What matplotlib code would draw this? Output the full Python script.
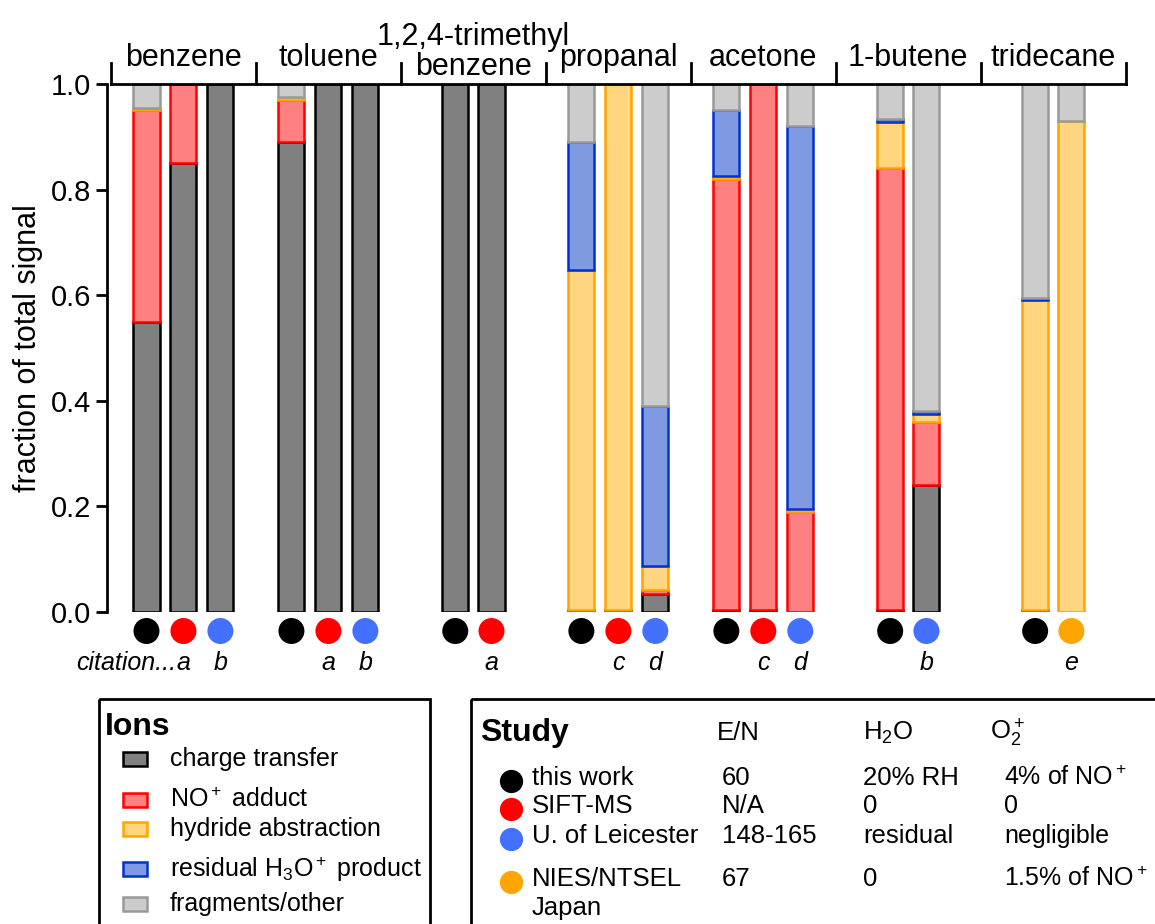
import numpy as np
import matplotlib
matplotlib.use('Agg')
import matplotlib.pyplot as plt
from matplotlib.patches import Rectangle

plt.rcParams['font.family'] = ['Liberation Sans', 'DejaVu Sans']
plt.rcParams['mathtext.fontset'] = 'custom'
plt.rcParams['mathtext.rm'] = 'Liberation Sans'
plt.rcParams['mathtext.it'] = 'Liberation Sans:italic'
plt.rcParams['mathtext.bf'] = 'Liberation Sans:bold'

compounds = ['benzene', 'toluene', '1,2,4-trimethyl\nbenzene', 'propanal',
             'acetone', '1-butene', 'tridecane']

# one entry per bar
bar_compound = [0, 0, 0, 1, 1, 1, 2, 2, 3, 3, 3, 4, 4, 4, 5, 5, 6, 6]
bar_study = [0, 1, 2, 0, 1, 2, 0, 1, 0, 1, 2, 0, 1, 2, 0, 2, 0, 3]
bar_citation = ['', 'a', 'b', '', 'a', 'b', '', 'a', '', 'c', 'd', '', 'c', 'd', '', 'b', '', 'e']

charge_transfer = [0.55, 0.85, 1.0, 0.89, 1.0, 1.0, 1.0, 1.0, 0.003, 0.003, 0.035,
                   0.003, 0.003, 0.0, 0.003, 0.24, 0.003, 0.0]
no_adduct = [0.40, 0.15, 0.0, 0.08, 0.0, 0.0, 0.0, 0.0, 0.0, 0.0, 0.007,
             0.817, 0.997, 0.19, 0.837, 0.12, 0.0, 0.0]
hydride = [0.005, 0.0, 0.0, 0.005, 0.0, 0.0, 0.0, 0.0, 0.645, 0.997, 0.046,
           0.005, 0.0, 0.005, 0.088, 0.015, 0.587, 0.93]
h3o_product = [0.0, 0.0, 0.0, 0.0, 0.0, 0.0, 0.0, 0.0, 0.242, 0.0, 0.302,
               0.125, 0.0, 0.725, 0.005, 0.005, 0.005, 0.0]
fragments = [0.045, 0.0, 0.0, 0.025, 0.0, 0.0, 0.0, 0.0, 0.11, 0.0, 0.61,
             0.05, 0.0, 0.08, 0.067, 0.62, 0.405, 0.07]

ion_labels = ['charge transfer', r'NO$^+$ adduct', 'hydride abstraction',
              r'residual H$_3$O$^+$ product', 'fragments/other']
ion_fill = ['#808080', '#FF8080', '#FFD580', '#7F9AE0', '#CCCCCC']
ion_edge = ['#000000', '#FF0000', '#FFA500', '#0033CC', '#999999']

study_names = ['this work', 'SIFT-MS', 'U. of Leicester', 'NIES/NTSEL\nJapan']
study_colors = ['#000000', '#FF0000', '#4470FF', '#FFA500']
study_en = ['60', 'N/A', '148-165', '67']
study_h2o = ['20% RH', '0', 'residual', '0']
study_o2 = [r'4% of NO$^+$', '0', 'negligible', r'1.5% of NO$^+$']

W, H = 1155, 924
fig = plt.figure(figsize=(W / 100, H / 100), dpi=100)
ax = fig.add_axes([106.6 / W, 1 - 612 / H, 1026.4 / W, 528 / H])

# bar positions inside each compound group
bar_compound = np.array(bar_compound)
nbar = len(bar_compound)
xpos = np.zeros(nbar)
for g in range(len(compounds)):
    idx = np.where(bar_compound == g)[0]
    step = 0.255 if len(idx) == 3 else 0.25
    xpos[idx] = g + (np.arange(len(idx)) - (len(idx) - 1) / 2) * step

bottom = np.zeros(nbar)
for vals, fc, ec in zip([charge_transfer, no_adduct, hydride, h3o_product, fragments],
                        ion_fill, ion_edge):
    vals = np.array(vals)
    m = vals > 0
    ax.bar(xpos[m], vals[m], width=0.18, bottom=bottom[m], color=fc,
           edgecolor=ec, linewidth=1.8)
    bottom += vals

ax.set_xlim(-0.53, 6.55)
ax.set_ylim(0, 1.0)
for s in ['top', 'right', 'bottom']:
    ax.spines[s].set_visible(False)
ax.spines['left'].set_linewidth(2)
ax.set_xticks([])
ax.set_yticks([0, 0.2, 0.4, 0.6, 0.8, 1.0])
ax.set_yticklabels(['0.0', '0.2', '0.4', '0.6', '0.8', '1.0'])
ax.tick_params(axis='y', length=8, width=2, labelsize=21, pad=3)
ax.set_ylabel('fraction of total signal', fontsize=22)
ax.yaxis.set_label_coords(-0.062, 0.5)

# group bracket along the top
ax.plot([-0.5, len(compounds) - 0.5], [1.0, 1.0], color='black', lw=2, clip_on=False)
for g in range(len(compounds) + 1):
    ax.plot([g - 0.5, g - 0.5], [1.0, 1.04], color='black', lw=2, clip_on=False)
for g, name in enumerate(compounds):
    nl = name.count('\n')
    ax.text(g, 1.02 - 0.017 * nl, name, ha='center', va='bottom', fontsize=22,
            linespacing=1.0, clip_on=False)

# study markers and citation letters under the bars
ax.scatter(xpos, np.full(nbar, -0.036), s=350, c=[study_colors[s] for s in bar_study],
           clip_on=False, zorder=3, linewidths=0)
for x, c in zip(xpos, bar_citation):
    if c:
        ax.text(x, -0.097, c, ha='center', va='center', fontsize=18,
                style='italic', clip_on=False)
ax.text(xpos[1] - 0.05, -0.097, 'citation...', ha='right', va='center',
        fontsize=18, style='italic', clip_on=False)

# legend panels, laid out in pixel units
lg = fig.add_axes([0, 0, 1, 1])
lg.set_xlim(0, W)
lg.set_ylim(H, 0)
lg.axis('off')

lg.add_patch(Rectangle((99, 699), 331, 260, fill=False, ec='black', lw=2, clip_on=False))
lg.text(105, 727, 'Ions', fontsize=23, fontweight='bold', va='center')
ion_rows = [759, 800, 829, 869, 904]
for y, lab, fc, ec in zip(ion_rows, ion_labels, ion_fill, ion_edge):
    lg.add_patch(Rectangle((123, y - 7), 24, 14, fc=fc, ec=ec, lw=1.8))
    lg.text(170, y, lab, fontsize=18, va='center')

lg.add_patch(Rectangle((471, 699), 720, 260, fill=False, ec='black', lw=2, clip_on=False))
lg.text(480, 733, 'Study', fontsize=23, fontweight='bold', va='center')
lg.text(717, 733, 'E/N', fontsize=18.5, va='center')
lg.text(863, 733, r'H$_2$O', fontsize=18.5, va='center')
lg.text(990, 733, r'O$_2^+$', fontsize=18.5, va='center')
study_rows = [778, 806, 836, 879]
for y, name, col, en, h2o, o2 in zip(study_rows, study_names, study_colors,
                                     study_en, study_h2o, study_o2):
    lg.scatter([511], [y + 3], s=280, color=col, linewidths=0)
    lines = name.split('\n')
    for k, line in enumerate(lines):
        lg.text(532, y + 29 * k, line, fontsize=18.5, va='center')
    lg.text(722, y, en, fontsize=18.5, va='center')
    lg.text(863, y, h2o, fontsize=18.5, va='center')
    lg.text(1004, y, o2, fontsize=18, va='center')

fig.savefig('out.png', dpi=100)
